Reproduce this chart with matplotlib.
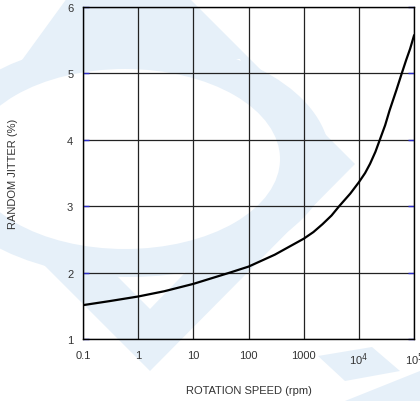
import matplotlib
matplotlib.use("Agg")
import matplotlib.pyplot as plt
from matplotlib.patches import Polygon, Ellipse
from matplotlib.ticker import FixedLocator, NullLocator

plt.rcParams['font.family'] = ['Liberation Sans', 'DejaVu Sans']

# data
speed_rpm = [0.1, 0.3, 1, 3, 10, 46, 100, 300, 1000, 1500, 2200, 3200, 4400, 7000, 10000,
             13000, 16000, 20000, 24000, 30000, 36000, 48000, 60000, 72000, 85000, 100000]
jitter_pct = [1.51, 1.57, 1.64, 1.72, 1.83, 2.00, 2.09, 2.27, 2.51, 2.61, 2.73, 2.86, 3.00, 3.19, 3.36,
              3.50, 3.64, 3.82, 4.00, 4.22, 4.44, 4.75, 5.00, 5.20, 5.37, 5.57]

x_ticks = [0.1, 1, 10, 100, 1000, 1e4, 1e5]
x_tick_labels = ['0.1', '1', '10', '100', '1000', r'10$^4$', r'10$^5$']
y_ticks = [1, 2, 3, 4, 5, 6]

W, H = 420, 402
fig = plt.figure(figsize=(W / 100, H / 100), dpi=100)

# --- faint watermark in figure pixel coordinates ---
wm = '#e6f0f9'
def P(pts):
    return [(x / W, 1 - y / H) for x, y in pts]

def add_poly(pts, color, z):
    fig.patches.append(Polygon(P(pts), closed=True, transform=fig.transFigure,
                               facecolor=color, edgecolor='none', zorder=z))

def add_ell(cx, cy, w, h, color, z):
    fig.patches.append(Ellipse((cx / W, 1 - cy / H), w / W, h / H, transform=fig.transFigure,
                               facecolor=color, edgecolor='none', zorder=z))

add_poly([(110, -60), (130, -60), (355, 165), (150, 372), (-55, 167)], wm, -10)
add_poly([(150, 310), (-20, 140), (60, 60), (240, 60), (290, 165)], 'white', -9)
add_ell(130, 160, 400, 236, wm, -8)
add_ell(125, 160, 310, 180, 'white', -7)
add_poly([(318, 357), (372, 348), (400, 372), (345, 382)], wm, -10)
add_poly([(345, 402), (420, 372), (420, 402)], wm, -10)

ax = fig.add_axes([83 / W, 1 - 340 / H, (414 - 83) / W, (340 - 8) / H])
ax.patch.set_alpha(0)
ax.set_xscale('log')
ax.set_xlim(0.1, 1e5)
ax.set_ylim(1, 6)

ax.plot(speed_rpm, jitter_pct, color='black', lw=1.6, zorder=3,
        solid_joinstyle='round')

ax.xaxis.set_major_locator(FixedLocator(x_ticks))
ax.xaxis.set_minor_locator(NullLocator())
ax.set_xticks(x_ticks)
ax.set_xticklabels(x_tick_labels)
ax.set_yticks(y_ticks)
ax.grid(True, color='#222222', lw=0.9)
ax.tick_params(axis='x', length=0, pad=8, labelsize=8, colors='#333333')
ax.tick_params(axis='y', length=4, width=1, direction='in', color='#2b2bc8',
               right=True, pad=7, labelsize=8, labelcolor='#333333')
for s in ax.spines.values():
    s.set_color('black')
    s.set_linewidth(1.0)

ax.set_xlabel('ROTATION SPEED (rpm)', fontsize=8, color='#333333')
ax.set_ylabel('RANDOM JITTER (%)', fontsize=8, color='#333333')
ax.xaxis.set_label_coords(0.5, -0.138)
ax.yaxis.set_label_coords(-0.195, 0.5)

fig.savefig('out.png', dpi=100)
